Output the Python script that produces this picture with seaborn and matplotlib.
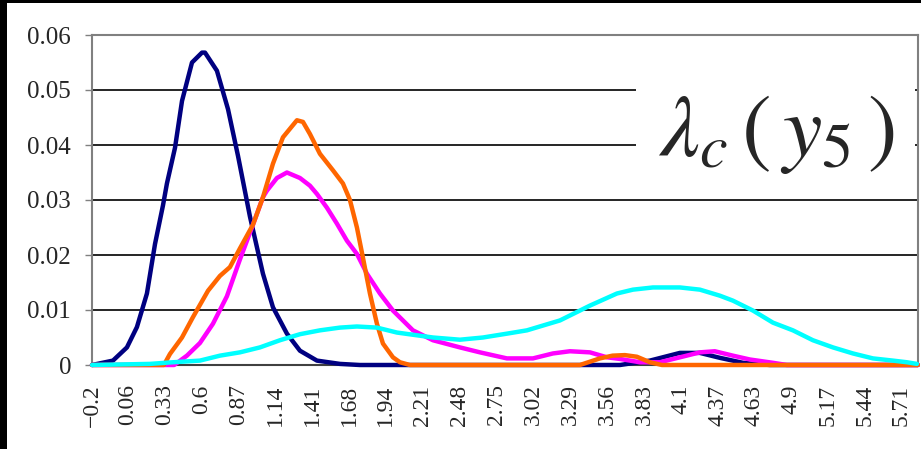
import matplotlib
matplotlib.use("Agg")
import matplotlib.pyplot as plt
import seaborn as sns
import pandas as pd
from matplotlib.patches import Rectangle

# Density curves sampled along the lambda axis
navy_x = [-0.2, -0.047, 0.055, 0.128, 0.201, 0.26, 0.318, 0.347, 0.406, 0.457, 0.53, 0.603,
          0.625, 0.712, 0.793, 0.866, 0.953, 1.048, 1.121, 1.223, 1.318, 1.442, 1.61, 1.756,
          3.654, 3.873, 4.092, 4.238, 4.384, 4.552, 4.749, 5.829]
navy_y = [0, 0.0008, 0.0032, 0.0069, 0.013, 0.022, 0.029, 0.033, 0.0395, 0.048, 0.055, 0.0568,
          0.0568, 0.0535, 0.0465, 0.038, 0.027, 0.0166, 0.0105, 0.0057, 0.0026, 0.0008, 0.0002, 0,
          0, 0.0008, 0.0022, 0.0022, 0.0013, 0.0004, 0, 0]

orange_x = [-0.2, 0.325, 0.369, 0.457, 0.537, 0.647, 0.734, 0.807, 0.88, 0.975, 1.048, 1.121,
            1.194, 1.296, 1.34, 1.391, 1.464, 1.559, 1.632, 1.683, 1.734, 1.778, 1.829, 1.88,
            1.924, 1.997, 2.048, 2.121, 3.362, 3.508, 3.6, 3.69, 3.778, 3.873, 3.961, 5.829]
orange_y = [0, 0, 0.002, 0.005, 0.0087, 0.0135, 0.0162, 0.0178, 0.0212, 0.0255, 0.0305, 0.0366,
            0.0414, 0.0445, 0.0442, 0.042, 0.0384, 0.0354, 0.033, 0.030, 0.025, 0.0195, 0.013, 0.0075,
            0.0039, 0.0014, 0.0005, 0, 0, 0.0012, 0.0017, 0.0018, 0.0015, 0.0005, 0, 0]

magenta_x = [-0.2, 0.4, 0.493, 0.588, 0.683, 0.785, 0.88, 0.975, 1.048, 1.077, 1.15, 1.223,
             1.318, 1.391, 1.442, 1.515, 1.588, 1.661, 1.734, 1.807, 1.902, 1.997, 2.143, 2.289,
             2.486, 2.632, 2.829, 3.019, 3.165, 3.289, 3.435, 3.559, 3.654, 3.8, 3.946, 4.092,
             4.238, 4.347, 4.479, 4.603, 4.771, 4.873, 5.829]
magenta_y = [0, 0, 0.0017, 0.004, 0.0075, 0.0125, 0.0192, 0.0255, 0.0305, 0.0317, 0.034, 0.035,
             0.034, 0.0326, 0.0311, 0.0286, 0.0257, 0.0226, 0.0202, 0.0166, 0.013, 0.0099, 0.0063, 0.0045,
             0.0032, 0.0023, 0.0012, 0.0012, 0.0021, 0.0025, 0.0023, 0.0014, 0.0011, 0.0005, 0.0005, 0.0014,
             0.0023, 0.0025, 0.0017, 0.001, 0.0004, 0, 0]

cyan_x = [-0.2, 0.223, 0.391, 0.588, 0.734, 0.88, 1.026, 1.172, 1.318, 1.464, 1.61, 1.734,
          1.88, 2.026, 2.172, 2.289, 2.486, 2.654, 2.829, 2.975, 3.216, 3.435, 3.632, 3.749,
          3.895, 4.092, 4.238, 4.384, 4.479, 4.625, 4.771, 4.917, 5.063, 5.209, 5.355, 5.501,
          5.647, 5.749, 5.822]
cyan_y = [0, 0.0002, 0.0005, 0.0008, 0.0017, 0.0023, 0.0032, 0.0045, 0.0056, 0.0063, 0.0068, 0.007,
          0.0068, 0.0059, 0.0054, 0.005, 0.0046, 0.005, 0.0057, 0.0063, 0.0081, 0.0108, 0.013, 0.0137,
          0.0141, 0.0141, 0.0137, 0.0126, 0.0117, 0.0099, 0.0077, 0.0063, 0.0045, 0.0032, 0.0021, 0.0012,
          0.0008, 0.0005, 0.0002]

x_tick_labels = ["\u22120.2", "0.06", "0.33", "0.6", "0.87", "1.14", "1.41", "1.68", "1.94",
                 "2.21", "2.48", "2.75", "3.02", "3.29", "3.56", "3.83", "4.1", "4.37", "4.63",
                 "4.9", "5.17", "5.44", "5.71"]
y_tick_labels = ["0", "0.01", "0.02", "0.03", "0.04", "0.05", "0.06"]

series = [
    (navy_x, navy_y, "#000080"),
    (magenta_x, magenta_y, "#FF00FF"),
    (orange_x, orange_y, "#FF6600"),
    (cyan_x, cyan_y, "#00FFFF"),
]

sns.set_style("white")
plt.rcParams["font.family"] = ["Liberation Serif", "DejaVu Serif"]
plt.rcParams["mathtext.fontset"] = "stix"

W, H = 921, 449
fig = plt.figure(figsize=(W / 100, H / 100), dpi=100)
ax = fig.add_axes([92 / W, 84 / H, 826 / W, 330 / H])

for xs, ys, color in series:
    df = pd.DataFrame({"x": xs, "y": ys})
    sns.lineplot(data=df, x="x", y="y", ax=ax, color=color, linewidth=3.2,
                 sort=False, estimator=None, clip_on=False, zorder=3)

ax.set_xlim(-0.2, 5.83)
ax.set_ylim(0, 0.06)

yvals = [float(s) for s in y_tick_labels]
ax.set_yticks(yvals)
ax.set_yticklabels(y_tick_labels, fontsize=18)
xvals = [float(s.replace("\u2212", "-")) for s in x_tick_labels]
ax.set_xticks(xvals)
ax.set_xticklabels(x_tick_labels, rotation=90, fontsize=17)
ax.tick_params(axis="x", length=0, pad=14)
ax.tick_params(axis="y", length=5, width=1, color="#808080", direction="out", pad=10, left=True)
ax.set_xlabel("")
ax.set_ylabel("")

ax.set_axisbelow(True)
ax.yaxis.grid(True, color="black", linewidth=1.2)
ax.xaxis.grid(False)
for side in ["left", "top", "right"]:
    ax.spines[side].set_color("#808080")
    ax.spines[side].set_linewidth(1.5)
ax.spines["bottom"].set_color("#404040")
ax.spines["bottom"].set_linewidth(1.5)

# white panel holding the curve label
ax.add_patch(Rectangle((544 / 826, 0.503), 279 / 826, 0.497, transform=ax.transAxes,
                       facecolor="white", edgecolor="none", zorder=1))
ax.text(0.828, 0.70, r"$\lambda_c\,(\,y_5\,)$", transform=ax.transAxes,
        fontsize=64, ha="center", va="center", zorder=4)

# dark frame edges
fig.patches.append(Rectangle((0, 0), 7 / W, 1, transform=fig.transFigure,
                             facecolor="black", edgecolor="none"))
fig.patches.append(Rectangle((0, 1 - 3 / H), 1, 3 / H, transform=fig.transFigure,
                             facecolor="black", edgecolor="none"))

fig.savefig("out.png", dpi=100)
